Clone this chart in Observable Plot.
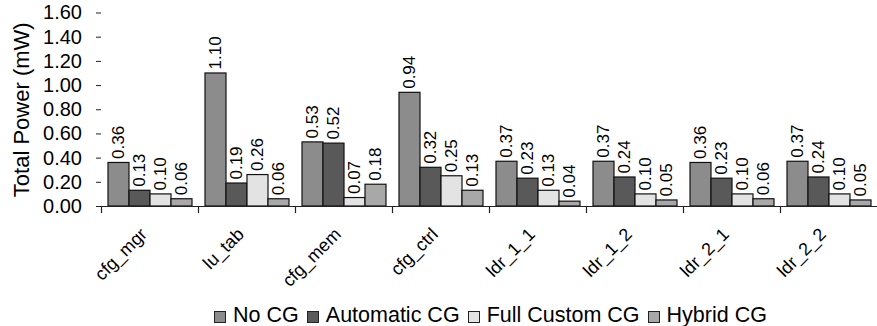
<!DOCTYPE html>
<html>
<head>
<meta charset="utf-8">
<script src="https://cdn.jsdelivr.net/npm/d3@7"></script>
<script src="https://cdn.jsdelivr.net/npm/@observablehq/plot@0.6"></script>
<style>
  html, body { margin: 0; padding: 0; background: #fff; }
  body { width: 877px; height: 326px; overflow: hidden; font-family: "Liberation Sans", Arial, sans-serif; }
  #legend { display: flex; justify-content: center; align-items: center; padding-left: 104px; margin-top: 14px; font-size: 21.5px; line-height: 22px; color: #000; }
  #legend .item { display: flex; align-items: center; margin: 0 4px; }
  #legend .sw { width: 10px; height: 10px; border: 1px solid #222; margin-right: 7px; position: relative; top: 2px; }
</style>
</head>
<body>
<div id="chart"></div>
<div id="legend"></div>
<script>
const categories = ["cfg_mgr", "lu_tab", "cfg_mem", "cfg_ctrl", "ldr_1_1", "ldr_1_2", "ldr_2_1", "ldr_2_2"];
const series = ["No CG", "Automatic CG", "Full Custom CG", "Hybrid CG"];
const noCG     = [0.36, 1.10, 0.53, 0.94, 0.37, 0.37, 0.36, 0.37];
const autoCG   = [0.13, 0.19, 0.52, 0.32, 0.23, 0.24, 0.23, 0.24];
const fullCG   = [0.10, 0.26, 0.07, 0.25, 0.13, 0.10, 0.10, 0.10];
const hybridCG = [0.06, 0.06, 0.18, 0.13, 0.04, 0.05, 0.06, 0.05];
const colors = ["#8c8c8c", "#595959", "#e3e3e3", "#a8a8a8"];
const yTicks = [0, 0.2, 0.4, 0.6, 0.8, 1.0, 1.2, 1.4, 1.6];
const yTitle = "Total Power (mW)";

const seriesValues = [noCG, autoCG, fullCG, hybridCG];
const data = [];
categories.forEach((c, i) => series.forEach((s, j) => data.push({cat: c, series: s, value: seriesValues[j][i]})));

const font = "'Liberation Sans', Arial, sans-serif";

const chart = Plot.plot({
  width: 877,
  height: 290,
  marginLeft: 100,
  marginRight: 0,
  marginTop: 12.5,
  marginBottom: 84,
  style: {fontFamily: font, fontSize: "17px", color: "#000", background: "#fff"},
  fx: {domain: categories, padding: 0, label: null, axis: null},
  x: {domain: series, paddingInner: 0, paddingOuter: 0.24, axis: null},
  y: {domain: [0, 1.6], axis: null},
  color: {domain: series, range: colors},
  marks: [
    Plot.barY(data, {fx: "cat", x: "series", y: "value", fill: "series", stroke: "#111", strokeWidth: 1.2}),
    Plot.text(data, {fx: "cat", x: "series", y: "value", text: d => d.value.toFixed(2), rotate: -90, textAnchor: "start", lineAnchor: "middle", dy: -4, fontSize: 17, fill: "#000"}),
    Plot.ruleY([0], {stroke: "#222", strokeWidth: 1.2}),
    Plot.frame({anchor: "left", insetTop: 193.5, insetBottom: -6, stroke: "#222", strokeWidth: 1.2}),
    Plot.axisY({ticks: yTicks, tickFormat: d => d.toFixed(2), tickSize: 5, tickPadding: 14.5, fontSize: 20, label: null, stroke: "#222", line: true}),
    Plot.text(categories, {fx: d => d, frameAnchor: "bottom", rotate: -45, textAnchor: "end", lineAnchor: "bottom", dy: 29, dx: -2, fontSize: 18, fill: "#000"}),
    Plot.text([yTitle], {fx: [categories[0]], frameAnchor: "left", dx: -80, rotate: -90, textAnchor: "middle", lineAnchor: "middle", fontSize: 22, fill: "#000"})
  ]
});
document.getElementById("chart").appendChild(chart);

const legend = document.getElementById("legend");
series.forEach((s, j) => {
  const item = document.createElement("div");
  item.className = "item";
  const sw = document.createElement("span");
  sw.className = "sw";
  sw.style.background = colors[j];
  const t = document.createElement("span");
  t.textContent = s;
  item.appendChild(sw);
  item.appendChild(t);
  legend.appendChild(item);
});
</script>
</body>
</html>
